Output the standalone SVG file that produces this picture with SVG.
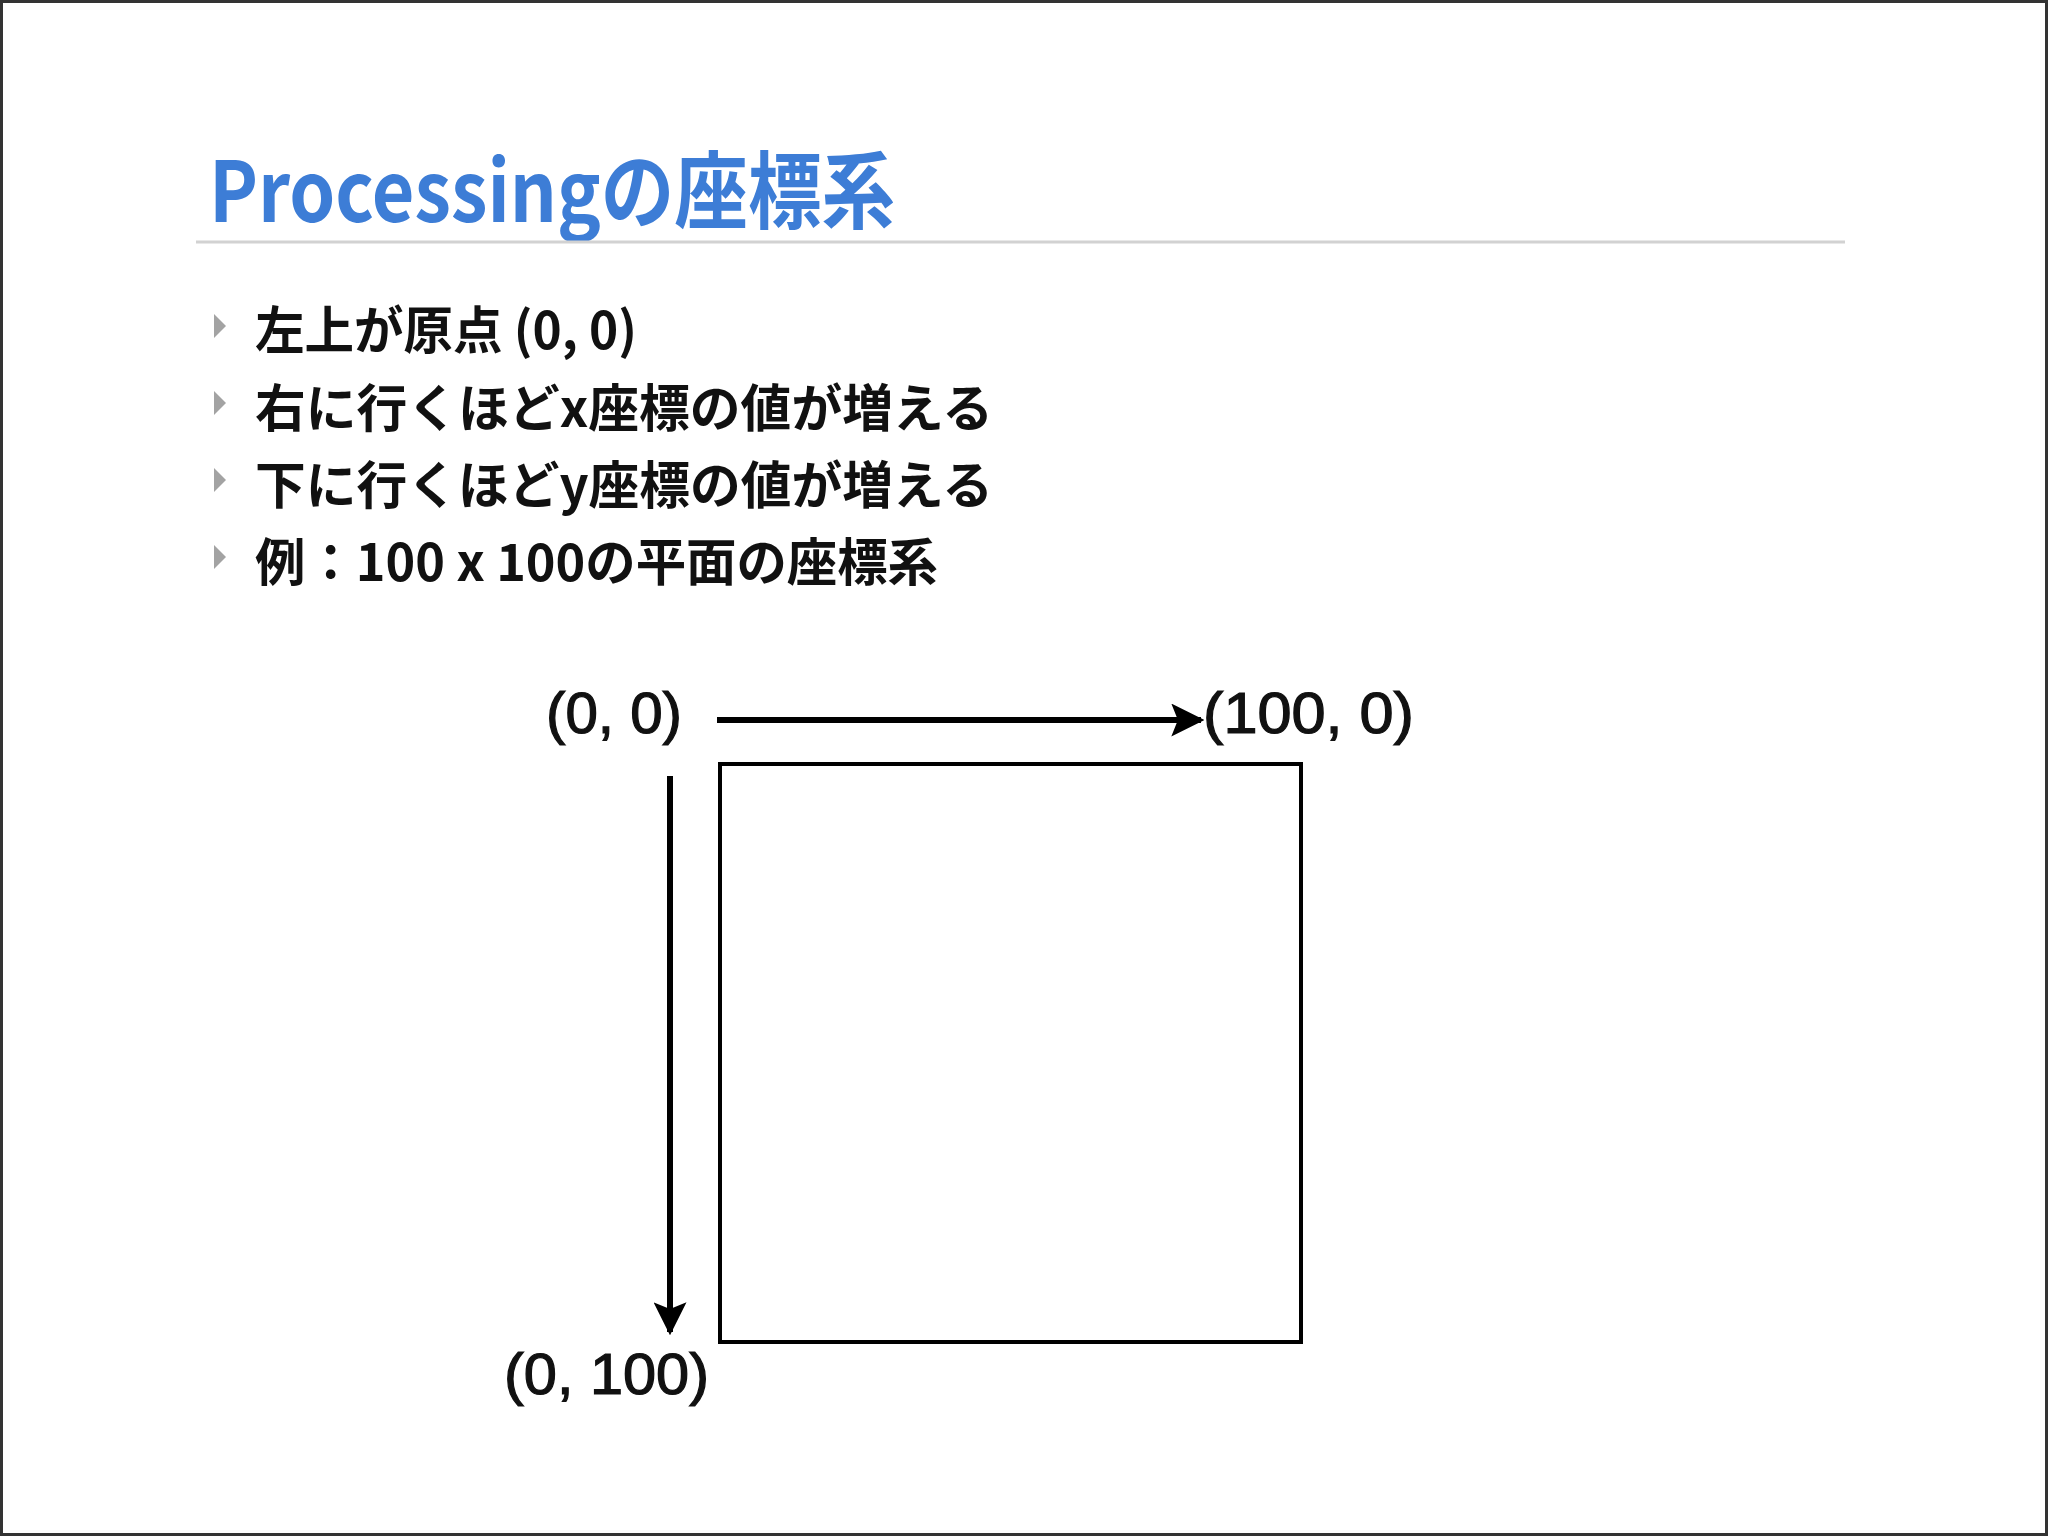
<svg xmlns="http://www.w3.org/2000/svg" width="2048" height="1536" viewBox="0 0 2048 1536">
<defs>
<style>
.title{font-family:"Noto Sans CJK JP","Noto Sans",sans-serif;font-weight:bold;font-size:84px;fill:#3d7dd6}
.bullet{font-family:"Noto Sans CJK JP","Noto Sans",sans-serif;font-weight:bold;font-size:51px;fill:#111}
.tri{fill:#a3a3a3}
.lbl{font-family:"Liberation Sans","Noto Sans",sans-serif;font-size:57px;fill:#111;stroke:#111;stroke-width:1.2}
.conn{stroke:#000;stroke-width:6;fill:none}
</style>
<marker id="ah" viewBox="0 0 10 10" refX="9" refY="5" markerWidth="5.5" markerHeight="5.5" markerUnits="strokeWidth" orient="auto">
<path d="M0,0 L10,5 L0,10 L2,5 Z" fill="#000"/>
</marker>
</defs>
<rect x="1.5" y="1.5" width="2045" height="1533" fill="#fff" stroke="#333" stroke-width="3"/>
<g id="title">
<text class="title" x="209" y="222" textLength="686" lengthAdjust="spacingAndGlyphs">Processingの座標系</text>
<line x1="196" y1="242" x2="1845" y2="242" stroke="#d2d2d2" stroke-width="3"/>
</g>
<g id="bullets">
<path class="tri" d="M214,314 L226,326 L214,338 Z"/>
<text class="bullet" x="255" y="349" textLength="382" lengthAdjust="spacingAndGlyphs">左上が原点 (0, 0)</text>
<path class="tri" d="M214,391 L226,403 L214,415 Z"/>
<text class="bullet" x="255" y="427" textLength="738" lengthAdjust="spacingAndGlyphs">右に行くほどx座標の値が増える</text>
<path class="tri" d="M214,468 L226,480 L214,492 Z"/>
<text class="bullet" x="255" y="504" textLength="738" lengthAdjust="spacingAndGlyphs">下に行くほどy座標の値が増える</text>
<path class="tri" d="M214,545 L226,557 L214,569 Z"/>
<text class="bullet" x="255" y="581" textLength="683" lengthAdjust="spacingAndGlyphs">例：100 x 100の平面の座標系</text>
</g>
<g id="plane">
<rect x="720" y="764" width="581" height="578" fill="none" stroke="#000" stroke-width="4"/>
</g>
<g id="label-origin"><text class="lbl" x="546" y="733" textLength="136" lengthAdjust="spacingAndGlyphs">(0, 0)</text></g>
<g id="label-x"><text class="lbl" x="1203" y="733" textLength="211" lengthAdjust="spacingAndGlyphs">(100, 0)</text></g>
<g id="label-y"><text class="lbl" x="504" y="1394" textLength="205" lengthAdjust="spacingAndGlyphs">(0, 100)</text></g>
<g id="connectors">
<line class="conn" x1="717" y1="720" x2="1201" y2="720" marker-end="url(#ah)"/>
<line class="conn" x1="670" y1="776" x2="670" y2="1332" marker-end="url(#ah)"/>
</g>
</svg>
